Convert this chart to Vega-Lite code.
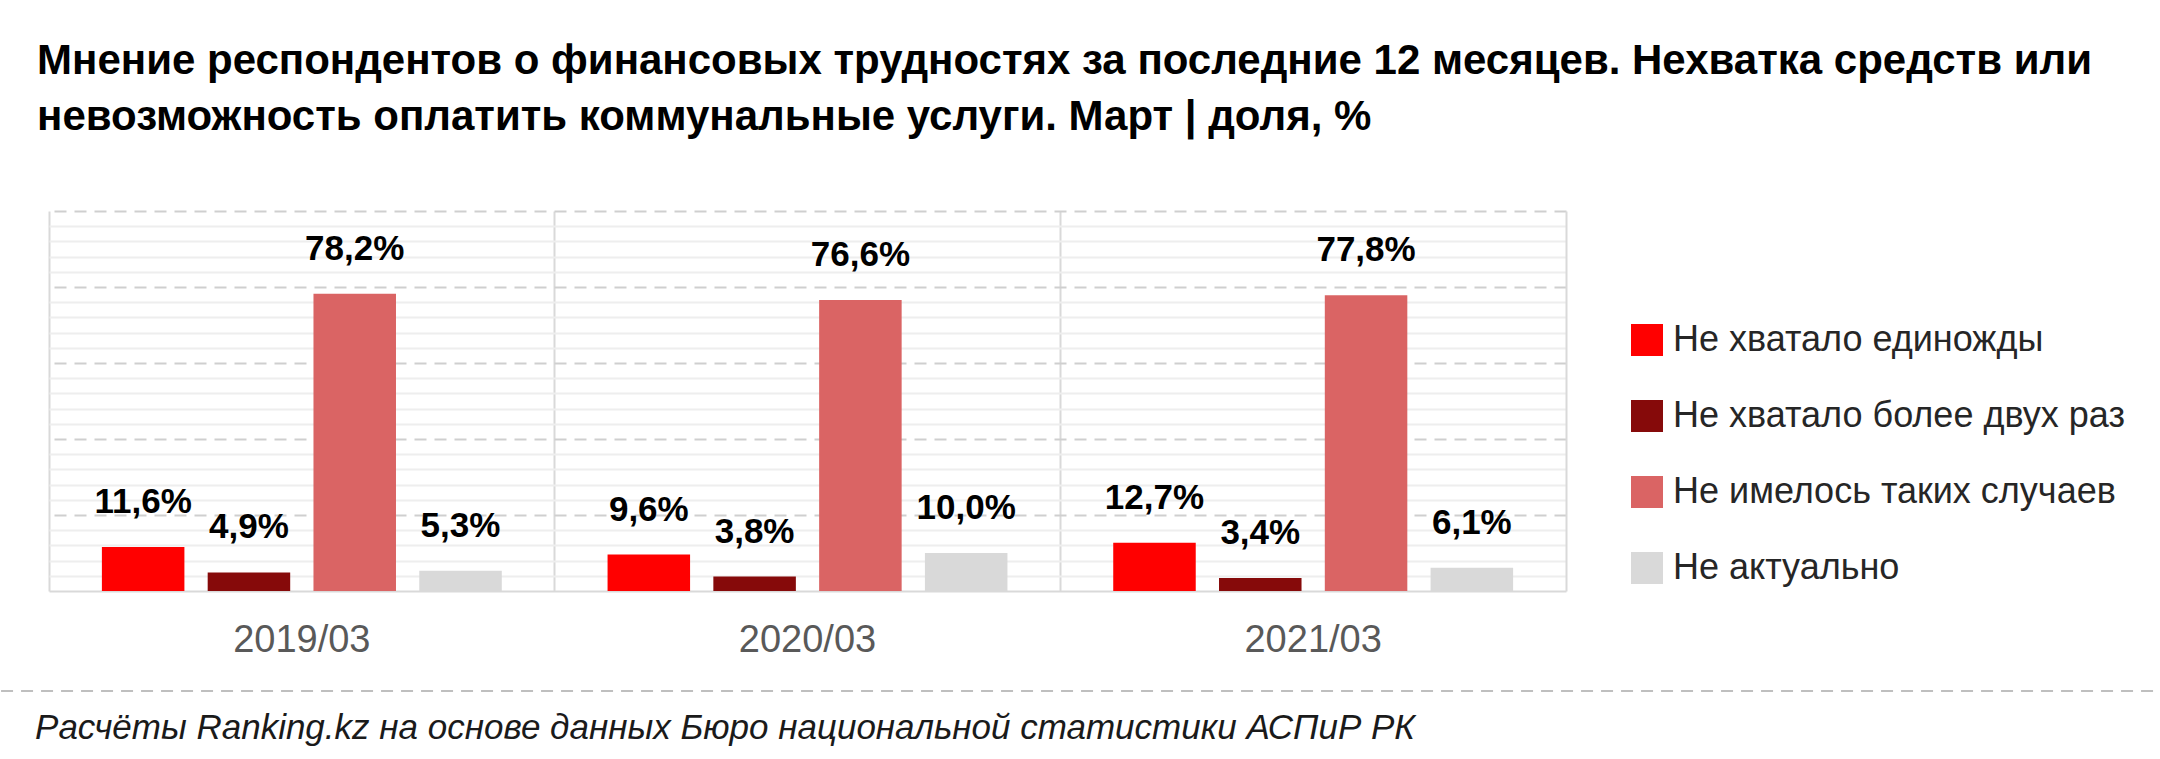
{
  "$schema": "https://vega.github.io/schema/vega-lite/v6.json",
  "background": "white",
  "padding": {"top": 40, "left": 0, "right": 0, "bottom": 0},
  "config": {"font": "Liberation Sans", "view": {"stroke": null}},
  "title": {
    "text": [
      "Мнение респондентов о финансовых трудностях за последние 12 месяцев. Нехватка средств или",
      "невозможность оплатить коммунальные услуги. Март | доля, %"
    ],
    "anchor": "start",
    "fontSize": 42,
    "fontWeight": "bold",
    "color": "#000000",
    "lineHeight": 56,
    "dx": 37,
    "offset": 72
  },
  "spacing": 31,
  "vconcat": [
    {
      "width": 1517,
      "height": 380,
      "data": {
        "values": [
          {"period": "2019/03", "answer": "Не хватало единожды", "share": 11.6},
          {"period": "2019/03", "answer": "Не хватало более двух раз", "share": 4.9},
          {"period": "2019/03", "answer": "Не имелось таких случаев", "share": 78.2},
          {"period": "2019/03", "answer": "Не актуально", "share": 5.3},
          {"period": "2020/03", "answer": "Не хватало единожды", "share": 9.6},
          {"period": "2020/03", "answer": "Не хватало более двух раз", "share": 3.8},
          {"period": "2020/03", "answer": "Не имелось таких случаев", "share": 76.6},
          {"period": "2020/03", "answer": "Не актуально", "share": 10.0},
          {"period": "2021/03", "answer": "Не хватало единожды", "share": 12.7},
          {"period": "2021/03", "answer": "Не хватало более двух раз", "share": 3.4},
          {"period": "2021/03", "answer": "Не имелось таких случаев", "share": 77.8},
          {"period": "2021/03", "answer": "Не актуально", "share": 6.1}
        ]
      },
      "transform": [
        {"calculate": "replace(format(datum.share, '.1f'), '.', ',') + '%'", "as": "label"}
      ],
      "layer": [
        {
          "mark": {"type": "bar"},
          "encoding": {
            "x": {
              "field": "period",
              "type": "nominal",
              "title": null,
              "scale": {"paddingInner": 0, "paddingOuter": 0},
              "axis": {
                "orient": "bottom",
                "labelAngle": 0,
                "labelFontSize": 38,
                "labelColor": "#595959",
                "labelPadding": 30,
                "ticks": false,
                "grid": false,
                "domainColor": "#D9D9D9",
                "domainWidth": 2
              }
            },
            "xOffset": {
              "field": "answer",
              "type": "nominal",
              "sort": ["Не хватало единожды", "Не хватало более двух раз", "Не имелось таких случаев", "Не актуально"],
              "scale": {"paddingInner": 0.22, "paddingOuter": 0.5}
            },
            "y": {
              "field": "share",
              "type": "quantitative",
              "title": null,
              "scale": {"domain": [0, 100], "nice": false},
              "axis": {
                "orient": "left",
                "values": [4, 8, 12, 16, 24, 28, 32, 36, 44, 48, 52, 56, 64, 68, 72, 76, 84, 88, 92, 96],
                "labels": false,
                "ticks": false,
                "domain": false,
                "grid": true,
                "gridColor": "#EEEEEE",
                "gridWidth": 2,
                "minExtent": 48,
                "maxExtent": 48
              }
            },
            "color": {
              "field": "answer",
              "type": "nominal",
              "sort": ["Не хватало единожды", "Не хватало более двух раз", "Не имелось таких случаев", "Не актуально"],
              "scale": {
                "domain": ["Не хватало единожды", "Не хватало более двух раз", "Не имелось таких случаев", "Не актуально"],
                "range": ["#FF0000", "#860A0A", "#DA6464", "#D9D9D9"]
              },
              "legend": {
                "title": null,
                "orient": "none",
                "legendX": 1580,
                "legendY": 111,
                "symbolType": "square",
                "symbolSize": 1024,
                "symbolStrokeWidth": 0,
                "symbolOpacity": 1,
                "labelFontSize": 36,
                "labelColor": "#262626",
                "labelOffset": 8,
                "labelLimit": 700,
                "rowPadding": 40
              }
            }
          }
        },
        {
          "mark": {"type": "text", "baseline": "middle", "dy": -45, "fontSize": 35, "fontWeight": "bold", "color": "#000000"},
          "encoding": {
            "x": {
              "field": "period",
              "type": "nominal",
              "title": null,
              "scale": {"paddingInner": 0, "paddingOuter": 0},
              "axis": {
                "orient": "top",
                "labels": false,
                "ticks": false,
                "domain": false,
                "grid": true,
                "bandPosition": 0,
                "gridColor": "#D9D9D9",
                "gridWidth": 2
              }
            },
            "xOffset": {
              "field": "answer",
              "type": "nominal",
              "sort": ["Не хватало единожды", "Не хватало более двух раз", "Не имелось таких случаев", "Не актуально"]
            },
            "y": {
              "field": "share",
              "type": "quantitative",
              "title": null,
              "axis": {
                "orient": "right",
                "values": [20, 40, 60, 80, 100],
                "labels": false,
                "ticks": false,
                "domain": true,
                "domainColor": "#D9D9D9",
                "domainWidth": 2,
                "grid": true,
                "gridColor": "#CFCFCF",
                "gridWidth": 2,
                "gridDash": [12, 8]
              }
            },
            "text": {"field": "label"}
          }
        }
      ],
      "resolve": {"axis": {"x": "independent", "y": "independent"}}
    },
    {
      "width": 2112,
      "height": 1,
      "data": {"values": [{"start": -2.27, "end": 100}]},
      "mark": {"type": "rule", "color": "#BFBFBF", "strokeWidth": 2, "strokeDash": [12, 8]},
      "encoding": {
        "x": {"field": "start", "type": "quantitative", "scale": {"domain": [0, 100]}, "axis": null},
        "x2": {"field": "end"},
        "y": {"datum": 0, "type": "quantitative", "scale": {"domain": [0, 1]}, "axis": null}
      },
      "title": {
        "text": "Расчёты Ranking.kz на основе данных Бюро национальной статистики АСПиР РК",
        "orient": "bottom",
        "anchor": "start",
        "fontSize": 35,
        "fontStyle": "italic",
        "fontWeight": "normal",
        "color": "#1A1A1A",
        "dx": 35,
        "offset": 19
      }
    }
  ]
}
